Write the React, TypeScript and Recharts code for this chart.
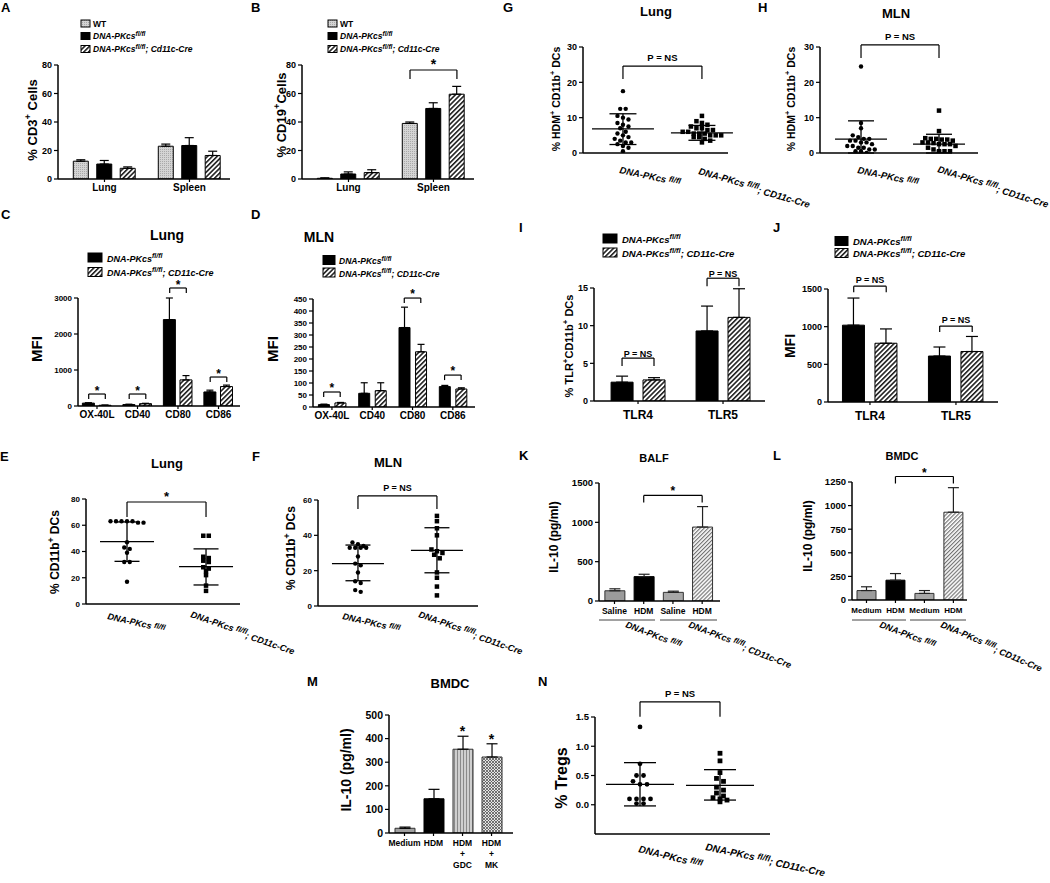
import React from 'react';
import { ComposedChart, ScatterChart, Bar, Cell, ErrorBar, Scatter, XAxis, YAxis, ReferenceLine, ReferenceDot } from 'recharts';

const FONT = '"Liberation Sans", Arial, Helvetica, sans-serif';

// A: % CD3+ cells
const aGroups = ['Lung', 'Spleen'];
const aWT = [12.5, 23];
const aWTTop = [13.5, 24.5];
const aFl = [10.5, 23.5];
const aFlTop = [13, 29];
const aCre = [7.5, 16.5];
const aCreTop = [8.5, 19.5];

// B: % CD19+ cells
const bWT = [0.5, 39];
const bWTTop = [0.8, 40];
const bFl = [3.5, 49.5];
const bFlTop = [5, 53.5];
const bCre = [4.5, 59.5];
const bCreTop = [6.5, 65];
const pctTicks = [0, 20, 40, 60, 80];

// C, D: MFI (lung / MLN)
const mfiGroups = ['OX-40L', 'CD40', 'CD80', 'CD86'];
const cFl = [80, 40, 2400, 390];
const cFlTop = [90, 50, 3000, 440];
const cCre = [20, 65, 725, 540];
const cCreTop = [25, 75, 845, 580];
const cTicks = [0, 1000, 2000, 3000];
const dFl = [10, 57, 331, 85];
const dFlTop = [12, 101, 416, 90];
const dCre = [17, 68, 230, 75];
const dCreTop = [19, 101, 261, 80];
const dTicks = [0, 50, 100, 150, 200, 250, 300, 350, 400, 450];

// E, F: % CD11b+ DCs
const eFl = [63, 63, 63, 63, 62, 62, 63, 47, 43, 42, 39, 32, 32, 17];
const eCre = [52, 52, 36, 35, 33, 32, 28, 27, 25, 22, 14, 10];
const eMean = [47.5, 28.5];
const eHi = [62.5, 42];
const eLo = [32.5, 14.5];
const fFl = [36, 35, 34, 33, 33, 33, 33, 28, 24, 23, 19, 14, 13, 9, 8];
const fCre = [51, 48, 44, 40, 32, 31, 30, 29, 27, 19, 16, 11, 6];
const fMean = [24, 31.5];
const fHi = [34.5, 44.3];
const fLo = [14.3, 18.8];

// G, H: % HDM+ CD11b+ DCs
const gFl = [17.5, 12.5, 12.5, 10.5, 10, 9.5, 8.5, 8, 7.5, 7, 6, 5.5, 5, 4.5, 4, 3.5, 3, 3, 2.5, 2, 1.5, 0.5];
const gCre = [10.5, 9, 8.5, 8, 7.5, 7, 7, 6.5, 6.5, 6, 6, 5.5, 5.5, 5.5, 5, 5, 5, 4.5, 4.5, 4, 3.5, 3];
const gMean = [6.8, 5.7];
const gHi = [11.1, 7.8];
const gLo = [2.4, 3.6];
const hFl = [24.5, 8.5, 7, 5, 4.5, 4, 4, 3.5, 3.5, 3, 3, 2.5, 2, 2, 1.5, 1.5, 1, 1, 0.5, 0.5, 0];
const hCre = [12, 6.2, 4.2, 4, 4, 3.8, 3.8, 3.5, 3, 3, 2.8, 2.5, 2.5, 2.5, 2, 1.5, 1, 0.5, 0.5, 0.5, 0.2];
const hMean = [3.9, 2.5];
const hHi = [9.1, 5.3];
const hLo = [0, 0];
const hdmTicks = [0, 10, 20, 30];

// I, J: TLR
const tlrGroups = ['TLR4', 'TLR5'];
const iFl = [2.5, 9.3];
const iFlTop = [3.3, 12.6];
const iCre = [2.8, 11.1];
const iCreTop = [3.1, 14.9];
const jFl = [1020, 610];
const jFlTop = [1380, 730];
const jCre = [780, 670];
const jCreTop = [970, 870];

// K, L, M: IL-10
const kGroups = ['Saline', 'HDM', 'Saline', 'HDM'];
const kVals = [130, 310, 110, 940];
const kTop = [155, 340, 125, 1200];
const lGroups = ['Medium', 'HDM', 'Medium', 'HDM'];
const lVals = [100, 210, 70, 930];
const lTop = [140, 280, 100, 1190];
const mGroups = ['Medium', 'HDM', 'HDM\n+\nGDC', 'HDM\n+\nMK'];
const mVals = [20, 145, 355, 322];
const mTop = [25, 185, 410, 378];

// N: % Tregs
const nFl = [1.33, 0.7, 0.5, 0.5, 0.4, 0.35, 0.35, 0.1, 0.1, 0.1, 0.1, 0.02, 0.02];
const nCre = [0.88, 0.75, 0.55, 0.45, 0.4, 0.3, 0.25, 0.2, 0.15, 0.12, 0.1, 0.08, 0.05];
const nMean = [0.35, 0.33];
const nHi = [0.72, 0.6];
const nLo = [-0.02, 0.08];

const YW = 46;
const MT = 46;
const MR = 16;

// group bars: group g centred on g + 0.5, series spread by step
function groupBars(vals: number[][], tops: number[][], style: (i: number, g: number) => { fill: string; stroke: string }, step: number) {
  const n = vals.length;
  const rows: any[] = [];
  vals[0].forEach((_, g) => {
    vals.forEach((s, i) => {
      rows.push({ x: g + 0.5 + (i - (n - 1) / 2) * step, v: s[g], err: [0, Math.max(0, tops[i][g] - s[g])], ...style(i, g) });
    });
  });
  return rows;
}

// simple beeswarm: points with near-equal values are spread in a row
function swarm(vals: number[], center: number, thr: number, gap: number) {
  const s = [...vals].sort((a, b) => b - a);
  const out: { x: number; y: number }[] = [];
  let i = 0;
  while (i < s.length) {
    let j = i;
    while (j + 1 < s.length && s[i] - s[j + 1] < thr) j++;
    const k = j - i + 1;
    for (let m = 0; m < k; m++) out.push({ x: center + (m - (k - 1) / 2) * gap, y: s[i + m] });
    i = j + 1;
  }
  return out;
}

function bracket(b: any, upp: number, key: string) {
  const lp = { stroke: '#000', strokeWidth: 1.2, ifOverflow: 'visible' as const };
  return [
    <ReferenceLine key={key + 'h'} segment={[{ x: b.xa, y: b.y }, { x: b.xb, y: b.y }]} {...lp}
      label={{ value: b.text, position: 'top', offset: b.off, fill: '#000', fontSize: b.fs, fontWeight: 'bold', fontFamily: FONT }} />,
    <ReferenceLine key={key + 'l'} segment={[{ x: b.xa, y: b.y }, { x: b.xa, y: b.y - b.drop * upp }]} {...lp} />,
    <ReferenceLine key={key + 'r'} segment={[{ x: b.xb, y: b.y }, { x: b.xb, y: b.y - (b.dropB ?? b.drop) * upp }]} {...lp} />,
  ];
}

const axisLine = { stroke: '#000', strokeWidth: 1.5 };
const tickLine = { stroke: '#000', strokeWidth: 1.2 };

function yAxisEl(yDomain: number[], yTicks: number[], yFs: number, yFmt?: (t: number) => string, dataKey?: string) {
  return (
    <YAxis type="number" dataKey={dataKey} domain={yDomain} ticks={yTicks} interval={0} width={YW} allowDataOverflow
      axisLine={axisLine} tickLine={tickLine} tickSize={4} tickFormatter={yFmt}
      tick={{ fontSize: yFs, fontWeight: 'bold', fill: '#000', fontFamily: FONT }} />
  );
}

function BarPanel({ px, py, pw, ph, xh = 30, xDomain, yDomain, yTicks, yFs = 9, groups, rows, barSize, capHalf,
  brackets = [], stars = [], xFs = 10, xMargin = 2, xTick, errStroke = '#000' }: any) {
  const upp = (yDomain[1] - yDomain[0]) / ph;
  return (
    <div style={{ position: 'absolute', left: px - YW, top: py - MT }}>
      <ComposedChart width={YW + pw + MR} height={MT + ph + xh} data={rows} margin={{ top: MT, right: MR, bottom: 0, left: 0 }}>
        <XAxis type="number" dataKey="x" domain={xDomain} allowDataOverflow ticks={groups.map((_: any, i: number) => i + 0.5)}
          interval={0} height={xh} tickFormatter={(t: number) => groups[Math.round(t - 0.5)]}
          tick={xTick || { fontSize: xFs, fontWeight: 'bold', fill: '#000', fontFamily: FONT }}
          tickSize={3} tickMargin={xMargin} axisLine={axisLine} tickLine={tickLine} />
        {yAxisEl(yDomain, yTicks, yFs)}
        <Bar dataKey="v" barSize={barSize} isAnimationActive={false}>
          {rows.map((r: any, i: number) => <Cell key={i} fill={r.fill} stroke={r.stroke} strokeWidth={1} />)}
          <ErrorBar dataKey="err" width={capHalf} stroke={errStroke} strokeWidth={1.2} direction="y" isAnimationActive={false} />
        </Bar>
        {brackets.flatMap((b: any, k: number) => bracket({ ...b, xa: rows[b.ia].x, xb: rows[b.ib].x }, upp, 'b' + k))}
        {stars.map((s: any, k: number) => (
          <ReferenceDot key={'s' + k} x={rows[s.i].x} y={rows[s.i].v + rows[s.i].err[1]} r={0.01} fill="none" stroke="none" ifOverflow="visible"
            label={{ value: '*', position: 'top', offset: s.off, fill: '#000', fontSize: s.fs, fontWeight: 'bold', fontFamily: FONT }} />
        ))}
      </ComposedChart>
    </div>
  );
}

function DotPanel({ px, py, pw, ph, xDomain, yDomain, yTicks, yFs = 9, yFmt, sets, mean, hi, lo, r = 2.2, sq = 4.5,
  gapPx = 5.5, meanHalf, capHalf, br }: any) {
  const u = pw / (xDomain[1] - xDomain[0]);
  const upp = (yDomain[1] - yDomain[0]) / ph;
  const pts = sets.map((vals: number[], g: number) => swarm(vals, g + 0.5, 3.8 * upp, gapPx / u));
  const mh = meanHalf / u;
  const ch = capHalf / u;
  const lp = { stroke: '#000', strokeWidth: 1.3, ifOverflow: 'visible' as const };
  return (
    <div style={{ position: 'absolute', left: px - YW, top: py - MT }}>
      <ScatterChart width={YW + pw + MR} height={MT + ph + 10} margin={{ top: MT, right: MR, bottom: 0, left: 0 }}>
        <XAxis type="number" dataKey="x" domain={xDomain} allowDataOverflow ticks={[0.5, 1.5]} interval={0} height={10}
          tick={false} tickSize={4} axisLine={axisLine} tickLine={tickLine} />
        {yAxisEl(yDomain, yTicks, yFs, yFmt, 'y')}
        <Scatter data={pts[0]} isAnimationActive={false}
          shape={(p: any) => <circle cx={p.cx} cy={p.cy} r={r} fill="#000" />} />
        <Scatter data={pts[1]} isAnimationActive={false}
          shape={(p: any) => <rect x={p.cx - sq / 2} y={p.cy - sq / 2} width={sq} height={sq} fill="#000" />} />
        {[0, 1].flatMap((g) => {
          const c = g + 0.5;
          return [
            <ReferenceLine key={'m' + g} segment={[{ x: c - mh, y: mean[g] }, { x: c + mh, y: mean[g] }]} {...lp} />,
            <ReferenceLine key={'v' + g} segment={[{ x: c, y: lo[g] }, { x: c, y: hi[g] }]} {...lp} />,
            <ReferenceLine key={'t' + g} segment={[{ x: c - ch, y: hi[g] }, { x: c + ch, y: hi[g] }]} {...lp} />,
            <ReferenceLine key={'b' + g} segment={[{ x: c - ch, y: lo[g] }, { x: c + ch, y: lo[g] }]} {...lp} />,
          ];
        })}
        {bracket({ ...br, xa: 0.5, xb: 1.5 }, upp, 'br')}
      </ScatterChart>
    </div>
  );
}

function Patterns() {
  return (
    <svg width={0} height={0} style={{ position: 'absolute' }}>
      <defs>
        <pattern id="hatch" patternUnits="userSpaceOnUse" width={3.4} height={3.4} patternTransform="rotate(45)">
          <rect width={3.4} height={3.4} fill="#fff" />
          <line x1={0.8} y1={0} x2={0.8} y2={3.4} stroke="#000" strokeWidth={1.4} />
        </pattern>
        <pattern id="hatchGray" patternUnits="userSpaceOnUse" width={2.8} height={2.8} patternTransform="rotate(45)">
          <rect width={2.8} height={2.8} fill="#fff" />
          <line x1={0.6} y1={0} x2={0.6} y2={2.8} stroke="#6a6a6a" strokeWidth={1.1} />
        </pattern>
        <pattern id="wt" patternUnits="userSpaceOnUse" width={2} height={2}>
          <rect width={2} height={2} fill="#d4d4d4" />
          <rect width={1} height={1} fill="#a9a9a9" />
        </pattern>
        <pattern id="vstripe" patternUnits="userSpaceOnUse" width={3} height={3}>
          <rect width={3} height={3} fill="#cfcfcf" />
          <line x1={0.5} y1={0} x2={0.5} y2={3} stroke="#8a8a8a" strokeWidth={1} />
        </pattern>
        <pattern id="check" patternUnits="userSpaceOnUse" width={3} height={3}>
          <rect width={3} height={3} fill="#e4e4e4" />
          <path d="M0 0L3 3M3 0L0 3" stroke="#555" strokeWidth={0.8} />
        </pattern>
      </defs>
    </svg>
  );
}

const bold = { fontFamily: FONT, fontWeight: 'bold' as const, fill: '#000' };

function Letter({ x, y, c }: any) {
  return <text x={x} y={y} fontSize={13} {...bold}>{c}</text>;
}

function Title({ x, y, fs, children }: any) {
  return <text x={x} y={y} fontSize={fs} textAnchor="middle" {...bold}>{children}</text>;
}

function YLab({ x, y, fs, s }: any) {
  const parts = s.split('^');
  return (
    <text transform={`translate(${x + fs * 0.35},${y}) rotate(-90)`} textAnchor="middle" fontSize={fs} {...bold}>
      {parts.map((p: string, i: number) => (i % 2
        ? <tspan key={i} fontSize={fs * 0.72} dy={-fs * 0.4}>{p}</tspan>
        : <tspan key={i} dy={i ? fs * 0.4 : 0}>{p}</tspan>))}
    </text>
  );
}

function Geno({ x, y, a, fs, cre, drop = 4 }: any) {
  return (
    <text transform={`translate(${x},${y}) rotate(${a})`} fontSize={fs} {...bold} fontStyle="italic">
      {'DNA-PKcs '}
      <tspan fontSize={fs * 0.85} dy={-2}>fl/fl</tspan>
      {cre && <tspan dy={drop}>{'; CD11c-Cre'}</tspan>}
    </text>
  );
}

function LegRow({ x, y, w, h, fill, tx, fs, label, cre }: any) {
  return (
    <g>
      <rect x={x} y={y} width={w} height={h} fill={fill} stroke="#000" strokeWidth={1} />
      {label ? (
        <text x={tx} y={y + h - 0.5} fontSize={fs} {...bold}>{label}</text>
      ) : (
        <text x={tx} y={y + h - 0.5} fontSize={fs} {...bold} fontStyle="italic">
          DNA-PKcs<tspan fontSize={fs * 0.78} dy={-fs * 0.4}>fl/fl</tspan>
          {cre && <tspan dy={fs * 0.4}>{'; ' + cre}</tspan>}
        </text>
      )}
    </g>
  );
}

const mTick = (p: any) => {
  const lines = mGroups[Math.round(p.payload.value - 0.5)].split('\n');
  return (
    <text x={p.x} y={p.y} textAnchor="middle" fontSize={8.5} fontWeight="bold" fontFamily={FONT} fill="#000">
      {lines.map((l: string, k: number) => <tspan key={k} x={p.x} dy={k === 0 ? 8 : 11}>{l}</tspan>)}
    </text>
  );
};

const blk = { fill: '#000', stroke: '#000' };
const hat = { fill: 'url(#hatch)', stroke: '#000' };
const wtS = { fill: 'url(#wt)', stroke: '#000' };

export default function App() {
  const abStyle = (i: number) => [wtS, blk, hat][i];
  const twoStyle = (i: number) => [blk, hat][i];
  const aRows = groupBars([aWT, aFl, aCre], [aWTTop, aFlTop, aCreTop], abStyle, 0.276);
  const bRows = groupBars([bWT, bFl, bCre], [bWTTop, bFlTop, bCreTop], abStyle, 0.276);
  const cRows = groupBars([cFl, cCre], [cFlTop, cCreTop], twoStyle, 0.41);
  const dRows = groupBars([dFl, dCre], [dFlTop, dCreTop], twoStyle, 0.41);
  const iRows = groupBars([iFl, iCre], [iFlTop, iCreTop], twoStyle, 0.376);
  const jRows = groupBars([jFl, jCre], [jFlTop, jCreTop], twoStyle, 0.378);
  const ilStyle = (i: number, g: number) => [
    { fill: '#9c9c9c', stroke: '#333' }, blk, { fill: '#a8a8a8', stroke: '#333' }, { fill: 'url(#hatchGray)', stroke: '#333' },
  ][g];
  const kRows = groupBars([kVals], [kTop], ilStyle, 0);
  const lRows = groupBars([lVals], [lTop], ilStyle, 0);
  const mStyle = (i: number, g: number) => [
    { fill: '#a0a0a0', stroke: '#333' }, blk, { fill: 'url(#vstripe)', stroke: '#333' }, { fill: 'url(#check)', stroke: '#333' },
  ][g];
  const mRows = groupBars([mVals], [mTop], mStyle, 0);

  return (
    <div style={{ position: 'absolute', left: 0, top: 0, width: 1050, height: 883, background: '#fff', fontFamily: FONT, overflow: 'hidden' }}>
      <Patterns />

      <BarPanel px={58} py={65} pw={172} ph={114} xDomain={[-0.047, 1.977]} yDomain={[0, 80]} yTicks={pctTicks}
        groups={aGroups} rows={aRows} barSize={15} capHalf={4.5} />
      <BarPanel px={302} py={65} pw={172} ph={114} xDomain={[-0.047, 1.977]} yDomain={[0, 80]} yTicks={pctTicks}
        groups={aGroups} rows={bRows} barSize={15} capHalf={4.5}
        brackets={[{ ia: 3, ib: 5, y: 76.5, drop: 9, text: '*', fs: 14, off: 1 }]} />

      <BarPanel px={78} py={298} pw={162} ph={108} xDomain={[0.031, 4.031]} yDomain={[0, 3000]} yTicks={cTicks} yFs={8}
        groups={mfiGroups} rows={cRows} barSize={12} capHalf={3.5}
        brackets={[
          { ia: 0, ib: 1, y: 333, drop: 5, text: '*', fs: 12, off: -1 },
          { ia: 2, ib: 3, y: 333, drop: 5, text: '*', fs: 12, off: -1 },
          { ia: 4, ib: 5, y: 3278, drop: 5, text: '*', fs: 12, off: -1 },
          { ia: 6, ib: 7, y: 805, drop: 5, text: '*', fs: 12, off: -1 },
        ]} />
      <BarPanel px={313} py={299} pw={162} ph={108} xDomain={[0.03, 4.05]} yDomain={[0, 450]} yTicks={dTicks} yFs={8}
        groups={mfiGroups} rows={dRows} barSize={11} capHalf={3.5}
        brackets={[
          { ia: 0, ib: 1, y: 62.5, drop: 5, text: '*', fs: 12, off: 0 },
          { ia: 4, ib: 5, y: 454, drop: 5, text: '*', fs: 12, off: 0 },
          { ia: 6, ib: 7, y: 133, drop: 5, text: '*', fs: 12, off: 0 },
        ]} />

      <DotPanel px={86} py={499} pw={154} ph={105} xDomain={[-0.019, 1.93]} yDomain={[0, 80]} yTicks={pctTicks} yFs={8}
        sets={[eFl, eCre]} mean={eMean} hi={eHi} lo={eLo} meanHalf={27} capHalf={12.5}
        br={{ y: 77.7, drop: 15, text: '*', fs: 13, off: 1 }} />
      <DotPanel px={318} py={500} pw={160} ph={106} xDomain={[-0.006, 2.02]} yDomain={[0, 60]} yTicks={[0, 20, 40, 60]} yFs={8}
        sets={[fFl, fCre]} mean={fMean} hi={fHi} lo={fLo} meanHalf={26} capHalf={12.5}
        br={{ y: 62.3, drop: 13, text: 'P = NS', fs: 9, off: 5 }} />

      <DotPanel px={583} py={47} pw={145} ph={106} xDomain={[-0.006, 1.83]} yDomain={[0, 30]} yTicks={hdmTicks}
        sets={[gFl, gCre]} mean={gMean} hi={gHi} lo={gLo} meanHalf={31} capHalf={13.5}
        br={{ y: 24.6, drop: 13, text: 'P = NS', fs: 9.5, off: 5 }} />
      <DotPanel px={820} py={47} pw={158} ph={106} xDomain={[-0.026, 2.0]} yDomain={[0, 30]} yTicks={hdmTicks}
        sets={[hFl, hCre]} mean={hMean} hi={hHi} lo={hLo} meanHalf={26} capHalf={13}
        br={{ y: 30.6, drop: 13, text: 'P = NS', fs: 9.5, off: 5 }} />

      <BarPanel px={594} py={288} pw={171} ph={113} xDomain={[-0.018, 1.994]} yDomain={[0, 15]} yTicks={[0, 5, 10, 15]}
        groups={tlrGroups} rows={iRows} barSize={22} capHalf={6} xFs={12} xMargin={6}
        brackets={[
          { ia: 0, ib: 1, y: 5.7, drop: 8, text: 'P = NS', fs: 9, off: 1.5 },
          { ia: 2, ib: 3, y: 16.3, drop: 8, text: 'P = NS', fs: 9, off: 1.5 },
        ]} />
      <BarPanel px={828} py={289} pw={170} ph={113} xDomain={[0.012, 1.989]} yDomain={[0, 1500]} yTicks={[0, 500, 1000, 1500]}
        groups={tlrGroups} rows={jRows} barSize={22} capHalf={6} xFs={12} xMargin={6}
        brackets={[
          { ia: 0, ib: 1, y: 1538, drop: 6, text: 'P = NS', fs: 9, off: 3.5 },
          { ia: 2, ib: 3, y: 1008, drop: 6, text: 'P = NS', fs: 9, off: 3.5 },
        ]} />

      <BarPanel px={599} py={483} pw={121} ph={118} xDomain={[-0.03, 4.11]} yDomain={[0, 1500]} yTicks={[0, 500, 1000, 1500]} yFs={9.5}
        groups={kGroups} rows={kRows} barSize={20} capHalf={5.5} xFs={8.5} xMargin={4} errStroke="#222"
        brackets={[{ ia: 1, ib: 3, y: 1342, drop: 7, text: '*', fs: 12, off: 0.5 }]} />
      <BarPanel px={852} py={482} pw={115} ph={118} xDomain={[0, 3.97]} yDomain={[0, 1250]} yTicks={[0, 250, 500, 750, 1000, 1250]} yFs={9.5}
        groups={lGroups} rows={lRows} barSize={19} capHalf={5.5} xFs={8} xMargin={4} errStroke="#222"
        brackets={[{ ia: 1, ib: 3, y: 1308, drop: 7, text: '*', fs: 12, off: 0 }]} />

      <BarPanel px={389} py={715} pw={124} ph={118} xh={45} xDomain={[-0.034, 4.24]} yDomain={[0, 500]} yTicks={[0, 100, 200, 300, 400, 500]} yFs={10.5}
        groups={mGroups} rows={mRows} barSize={20} capHalf={5.5} xTick={mTick}
        stars={[{ i: 2, fs: 14, off: 0 }, { i: 3, fs: 14, off: 0 }]} />

      <DotPanel px={595} py={717} pw={175} ph={117} xDomain={[-0.0625, 2.125]} yDomain={[-0.5, 1.5]} yTicks={[0, 0.5, 1, 1.5]} yFs={9.5}
        yFmt={(t: number) => t.toFixed(1)} sets={[nFl, nCre]} mean={nMean} hi={nHi} lo={nLo} r={2.4} sq={4.8} gapPx={7}
        meanHalf={34} capHalf={16} br={{ y: 1.76, drop: 15, text: 'P = NS', fs: 9.5, off: 5 }} />

      <svg width={1050} height={883} style={{ position: 'absolute', left: 0, top: 0, pointerEvents: 'none' }}>
        <Letter x={1} y={12} c="A" />
        <Letter x={251} y={12} c="B" />
        <Letter x={1} y={219} c="C" />
        <Letter x={251} y={219} c="D" />
        <Letter x={0} y={461} c="E" />
        <Letter x={252} y={461} c="F" />
        <Letter x={503} y={12} c="G" />
        <Letter x={758} y={12} c="H" />
        <Letter x={519} y={232} c="I" />
        <Letter x={773} y={232} c="J" />
        <Letter x={519} y={460} c="K" />
        <Letter x={773} y={460} c="L" />
        <Letter x={307} y={686} c="M" />
        <Letter x={538} y={686} c="N" />

        <Title x={167} y={240} fs={14}>Lung</Title>
        <Title x={319} y={242} fs={14}>MLN</Title>
        <Title x={167} y={468} fs={13}>Lung</Title>
        <Title x={388} y={467} fs={13}>MLN</Title>
        <Title x={656} y={16} fs={13}>Lung</Title>
        <Title x={896} y={18} fs={13}>MLN</Title>
        <Title x={654} y={462} fs={11}>BALF</Title>
        <Title x={902} y={460} fs={11}>BMDC</Title>
        <Title x={450} y={688} fs={13}>BMDC</Title>

        <LegRow x={81} y={20} w={9} h={7} fill="url(#wt)" tx={93} fs={8.5} label="WT" />
        <LegRow x={81} y={32.5} w={9} h={7} fill="#000" tx={93} fs={8.5} />
        <LegRow x={81} y={45.5} w={9} h={7} fill="url(#hatch)" tx={93} fs={8.5} cre="Cd11c-Cre" />
        <LegRow x={328} y={20} w={9} h={7} fill="url(#wt)" tx={340} fs={8.5} label="WT" />
        <LegRow x={328} y={32.5} w={9} h={7} fill="#000" tx={340} fs={8.5} />
        <LegRow x={328} y={45.5} w={9} h={7} fill="url(#hatch)" tx={340} fs={8.5} cre="Cd11c-Cre" />
        <LegRow x={88} y={253} w={14} h={9} fill="#000" tx={107} fs={9} />
        <LegRow x={88} y={267.5} w={14} h={9} fill="url(#hatch)" tx={107} fs={9} cre="CD11c-Cre" />
        <LegRow x={323} y={255.5} w={12} h={9} fill="#000" tx={339} fs={8.5} />
        <LegRow x={323} y={268} w={12} h={9} fill="url(#hatch)" tx={339} fs={8.5} cre="CD11c-Cre" />
        <LegRow x={603} y={234} w={14} h={9} fill="#000" tx={622} fs={9.5} />
        <LegRow x={603} y={248} w={14} h={9} fill="url(#hatch)" tx={622} fs={9.5} cre="CD11c-Cre" />
        <LegRow x={835} y={236.5} w={13} h={9} fill="#000" tx={853} fs={9.5} />
        <LegRow x={835} y={248.5} w={13} h={9} fill="url(#hatch)" tx={853} fs={9.5} cre="CD11c-Cre" />

        <YLab x={32} y={120} fs={13} s="% CD3^+^ Cells" />
        <YLab x={281} y={115} fs={13} s="% CD19^+^Cells" />
        <YLab x={37} y={349} fs={15} s="MFI" />
        <YLab x={273} y={349} fs={15} s="MFI" />
        <YLab x={55} y={552} fs={12} s="% CD11b^+^ DCs" />
        <YLab x={291} y={548} fs={12} s="% CD11b^+^ DCs" />
        <YLab x={556} y={99} fs={10.5} s="% HDM^+^ CD11b^+^ DCs" />
        <YLab x={791} y={99} fs={10.5} s="% HDM^+^ CD11b^+^ DCs" />
        <YLab x={569} y={346} fs={11} s="% TLR^+^CD11b^+^ DCs" />
        <YLab x={790} y={346} fs={14} s="MFI" />
        <YLab x={554} y={537} fs={12} s="IL-10 (pg/ml)" />
        <YLab x={808} y={536} fs={12} s="IL-10 (pg/ml)" />
        <YLab x={346} y={770} fs={14} s="IL-10 (pg/ml)" />
        <YLab x={561} y={778} fs={16} s="% Tregs" />

        <Geno x={107} y={619} a={13} fs={9} />
        <Geno x={190} y={617} a={19} fs={9} cre />
        <Geno x={342} y={619} a={13} fs={9} />
        <Geno x={418} y={617} a={19} fs={9} cre />
        <Geno x={619} y={173} a={12} fs={9.5} />
        <Geno x={698} y={174} a={16} fs={9.5} cre />
        <Geno x={857} y={173} a={12} fs={9.5} />
        <Geno x={937} y={172} a={17} fs={9.5} cre />
        <Geno x={638} y={852} a={14} fs={10} />
        <Geno x={705} y={850} a={12} fs={10} cre drop={3} />
        <Geno x={625} y={627} a={21} fs={9} />
        <Geno x={688} y={627} a={21} fs={9} cre />
        <Geno x={879} y={627} a={21} fs={9} />
        <Geno x={940} y={627} a={23} fs={9} cre />

        <line x1={599} y1={620} x2={655} y2={620} stroke="#444" strokeWidth={1} />
        <line x1={660} y1={620} x2={717} y2={620} stroke="#444" strokeWidth={1} />
        <line x1={852} y1={620} x2={906} y2={620} stroke="#444" strokeWidth={1} />
        <line x1={910} y1={620} x2={966} y2={620} stroke="#444" strokeWidth={1} />
      </svg>
    </div>
  );
}
